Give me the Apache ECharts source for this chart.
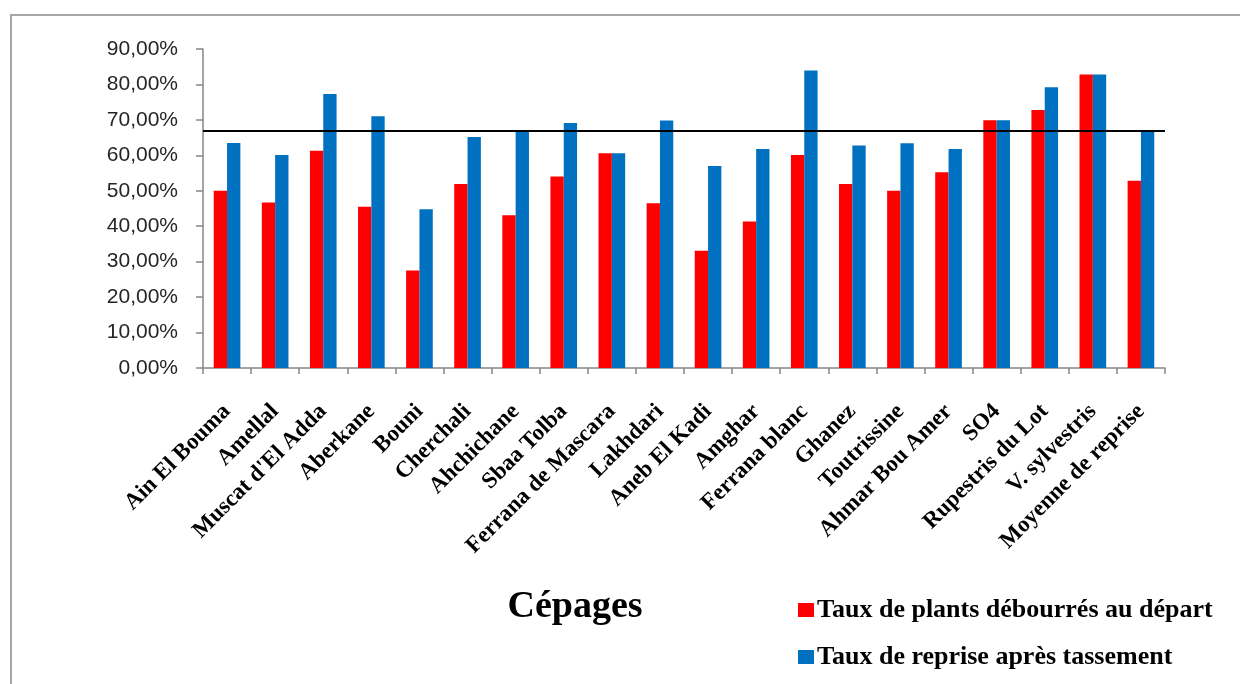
<!DOCTYPE html>
<html>
<head>
<meta charset="utf-8">
<title>Cépages – taux de débourrement et de reprise</title>
<script src="https://cdn.jsdelivr.net/npm/echarts@6/dist/echarts.min.js"></script>
<style>
  html, body { margin: 0; padding: 0; background: #ffffff; }
  #chart { width: 1240px; height: 684px; }
</style>
</head>
<body>
<div id="chart"></div>
<script>
// Cépages (grape varieties) on the category axis
const cepages = [
  'Ain El Bouma', 'Amellal', "Muscat d'El Adda", 'Aberkane', 'Bouni',
  'Cherchali', 'Ahchichane', 'Sbaa Tolba', 'Ferrana de Mascara', 'Lakhdari',
  'Aneb El Kadi', 'Amghar', 'Ferrana blanc', 'Ghanez', 'Toutrissine',
  'Ahmar Bou Amer', 'SO4', 'Rupestris du Lot', 'V. sylvestris', 'Moyenne de reprise'
];

// Taux de plants débourrés au départ (%)
const tauxDebourres = [
  50.0, 46.7, 61.3, 45.5, 27.5,
  51.9, 43.1, 54.0, 60.6, 46.5,
  33.1, 41.3, 60.1, 51.9, 50.0,
  55.2, 69.9, 72.8, 82.8, 52.8
];

// Taux de reprise après tassement (%)
const tauxReprise = [
  63.5, 60.1, 77.3, 71.0, 44.8,
  65.2, 66.9, 69.1, 60.6, 69.8,
  57.0, 61.8, 83.9, 62.8, 63.4,
  61.8, 69.9, 79.2, 82.8, 66.9
];

// Reference line: mean recovery rate (%)
const moyenneReprise = 66.8;

// Y-axis ticks (%)
const yMin = 0, yMax = 90, yStep = 10;

const serif = '"Liberation Serif", "Times New Roman", serif';
const sans = '"Liberation Sans", Arial, sans-serif';

const chart = echarts.init(document.getElementById('chart'), null, { renderer: 'canvas' });

chart.setOption({
  animation: false,
  backgroundColor: '#ffffff',
  graphic: [
    {
      type: 'rect',
      silent: true,
      z: -1,
      shape: { x: 11, y: 15, width: 1400, height: 900 },
      style: { fill: 'none', stroke: '#a6a6a6', lineWidth: 2 }
    },
    {
      type: 'text',
      silent: true,
      x: 575,
      y: 607,
      style: {
        text: 'Cépages',
        fill: '#000',
        font: 'bold 38px ' + serif,
        textAlign: 'center',
        textVerticalAlign: 'middle'
      }
    }
  ],
  legend: {
    orient: 'vertical',
    left: 793,
    top: 592,
    icon: 'rect',
    itemWidth: 16,
    itemHeight: 14,
    itemGap: 21,
    selectedMode: false,
    textStyle: { fontFamily: serif, fontWeight: 'bold', fontSize: 26, lineHeight: 26, color: '#000', padding: [0, 0, 0, -2] },
    data: ['Taux de plants débourrés au départ', 'Taux de reprise après tassement']
  },
  grid: { left: 203, top: 49, right: 75, bottom: 316, containLabel: false },
  xAxis: {
    type: 'category',
    data: cepages,
    axisLine: { lineStyle: { color: '#868686', width: 1.5 } },
    axisTick: { show: true, length: 6, lineStyle: { color: '#868686', width: 1.5 } },
    axisLabel: {
      rotate: 45,
      interval: 0,
      margin: 40,
      fontFamily: serif,
      fontWeight: 'bold',
      fontSize: 23,
      color: '#000'
    }
  },
  yAxis: {
    type: 'value',
    min: yMin,
    max: yMax,
    interval: yStep,
    splitLine: { show: false },
    axisLine: { show: true, lineStyle: { color: '#868686', width: 1.5 } },
    axisTick: { show: true, length: 7, lineStyle: { color: '#868686', width: 1.5 } },
    axisLabel: {
      margin: 25,
      fontFamily: sans,
      fontSize: 21,
      color: '#262626',
      formatter: v => v.toFixed(2).replace('.', ',') + '%'
    }
  },
  series: [
    {
      name: 'Taux de plants débourrés au départ',
      type: 'bar',
      data: tauxDebourres,
      barWidth: '27.7%',
      barGap: '0%',
      itemStyle: { color: '#ff0000' }
    },
    {
      name: 'Taux de reprise après tassement',
      type: 'bar',
      data: tauxReprise,
      barWidth: '27.7%',
      barGap: '0%',
      itemStyle: { color: '#0070c0' },
      markLine: {
        silent: true,
        symbol: ['none', 'none'],
        label: { show: false },
        lineStyle: { color: '#000', width: 2, type: 'solid' },
        data: [{ yAxis: moyenneReprise }]
      }
    }
  ]
});
</script>
</body>
</html>
